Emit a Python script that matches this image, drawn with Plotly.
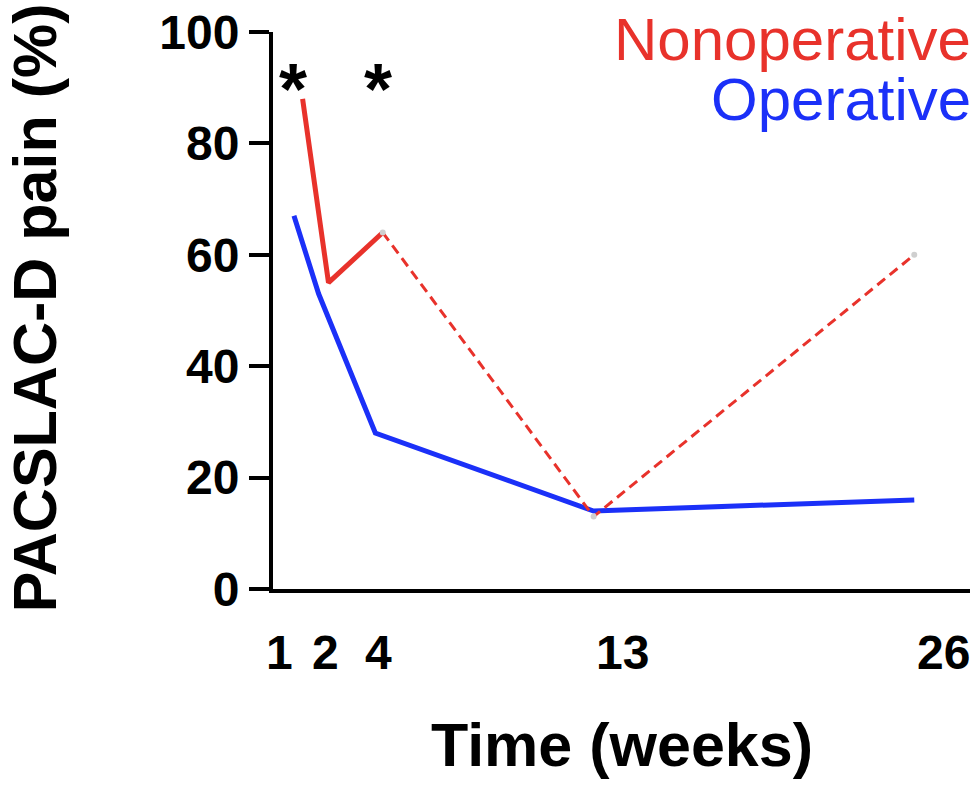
import plotly.graph_objects as go

# Follow-up time points (weeks) and mean PACSLAC-D pain scores (%)
weeks = [1, 2, 4, 13, 26]
tick_text = ["1", "2", "4", "13", "26"]
operative_pain = [67, 53, 28, 14, 16]
nonoperative_pain = [88, 55, 64, 13, 60]
significant_weeks = [1, 4]

RED = "#E8322B"
BLUE = "#1B30F8"
FONT = "Liberation Sans, Arial, Helvetica, sans-serif"

# small horizontal dodge (in weeks) so the two groups don't overlap early on
op_dodge = [-0.15, -0.15, 0.15, 0, 0]
nonop_dodge = [0.2, 0.25, 0.45, 0, 0]
op_x = [w + d for w, d in zip(weeks, op_dodge)]
nonop_x = [w + d for w, d in zip(weeks, nonop_dodge)]

fig = go.Figure()

fig.add_trace(go.Scatter(
    x=op_x, y=operative_pain, mode="lines",
    line=dict(color=BLUE, width=5), name="Operative",
))
# Nonoperative: solid through week 4, dashed afterwards
fig.add_trace(go.Scatter(
    x=nonop_x[:3], y=nonoperative_pain[:3], mode="lines",
    line=dict(color=RED, width=5), name="Nonoperative",
))
fig.add_trace(go.Scatter(
    x=nonop_x[2:], y=nonoperative_pain[2:], mode="lines+markers",
    line=dict(color=RED, width=3, dash="10px,6px"),
    marker=dict(color="#cfcfcf", size=6),
    name="Nonoperative (later)",
))

annotations = []
# asterisks marking significant differences
star_nudge = [-5, 6]
for w, s in zip(significant_weeks, star_nudge):
    annotations.append(dict(
        x=w, y=91, xref="x", yref="y", text="<b>*</b>", showarrow=False,
        font=dict(family=FONT, size=72, color="black"), yshift=-7, xshift=s,
    ))

# x tick labels
label_nudge = [-18, 3, 7, 29, 29]
for w, t, s in zip(weeks, tick_text, label_nudge):
    annotations.append(dict(
        x=w, y=0, xref="x", yref="y", text=f"<b>{t}</b>", showarrow=False,
        yanchor="middle", yshift=-63, xshift=s,
        font=dict(family=FONT, size=48, color="black"),
    ))

# group labels
annotations.append(dict(
    x=1.004, y=0.986, xref="paper", yref="paper", text="Nonoperative",
    showarrow=False, xanchor="right", yanchor="middle",
    font=dict(family=FONT, size=60, color=RED),
))
annotations.append(dict(
    x=1.004, y=0.878, xref="paper", yref="paper", text="Operative",
    showarrow=False, xanchor="right", yanchor="middle",
    font=dict(family=FONT, size=60, color=BLUE),
))
# axis titles
annotations.append(dict(
    x=0.5, y=-0.28, xref="paper", yref="paper", text="<b>Time (weeks)</b>",
    showarrow=False, xanchor="center", yanchor="middle",
    font=dict(family=FONT, size=61, color="black"),
))
annotations.append(dict(
    x=-0.342, y=0.505, xref="paper", yref="paper", text="<b>PACSLAC-D pain (%)</b>",
    showarrow=False, xanchor="center", yanchor="middle", textangle=-90,
    font=dict(family=FONT, size=61, color="black"),
))

fig.update_layout(
    width=976, height=793,
    margin=dict(l=273, r=6, t=32, b=204),
    paper_bgcolor="white", plot_bgcolor="white",
    showlegend=False,
    annotations=annotations,
)
fig.update_xaxes(
    range=[0, 28.26], showline=True, linecolor="black", linewidth=4,
    showgrid=False, zeroline=False, ticks="", showticklabels=False,
)
fig.update_yaxes(
    range=[0, 100], tickvals=[0, 20, 40, 60, 80, 100],
    showline=True, linecolor="black", linewidth=4,
    ticks="outside", ticklen=20, tickwidth=4, tickcolor="black",
    showgrid=False, zeroline=False,
    tickfont=dict(family=FONT, size=48, color="black", weight="bold"),
)

fig.write_html("out.html")
